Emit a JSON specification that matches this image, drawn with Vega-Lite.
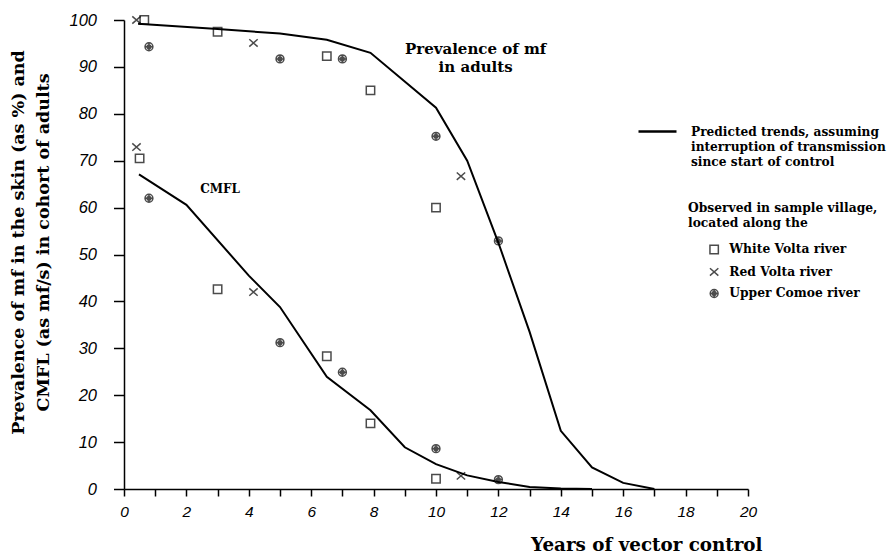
{
  "$schema": "https://vega.github.io/schema/vega-lite/v6.json",
  "width": 624,
  "height": 469,
  "autosize": {"type": "none"},
  "padding": {"left": 124, "top": 20, "right": 141, "bottom": 64},
  "background": "white",
  "config": {
    "view": {"stroke": null},
    "axis": {"grid": false, "domainColor": "black", "tickColor": "black", "labelColor": "black", "titleColor": "black", "domainWidth": 1.5, "tickWidth": 1.5}
  },
  "datasets": {
    "trends": [
      {"curve": "adults", "year": 0.45, "value": 99.2},
      {"curve": "adults", "year": 3, "value": 98.1},
      {"curve": "adults", "year": 5, "value": 97.1},
      {"curve": "adults", "year": 6.5, "value": 95.8},
      {"curve": "adults", "year": 7.9, "value": 93.0},
      {"curve": "adults", "year": 10, "value": 81.3},
      {"curve": "adults", "year": 11, "value": 70.0},
      {"curve": "adults", "year": 12, "value": 52.5},
      {"curve": "adults", "year": 13, "value": 33.5},
      {"curve": "adults", "year": 14, "value": 12.4},
      {"curve": "adults", "year": 15, "value": 4.6},
      {"curve": "adults", "year": 16, "value": 1.3},
      {"curve": "adults", "year": 17, "value": 0},
      {"curve": "CMFL", "year": 0.48, "value": 67.1},
      {"curve": "CMFL", "year": 2, "value": 60.6},
      {"curve": "CMFL", "year": 4, "value": 45.5},
      {"curve": "CMFL", "year": 5, "value": 38.8},
      {"curve": "CMFL", "year": 6.5, "value": 23.9},
      {"curve": "CMFL", "year": 7.9, "value": 16.8},
      {"curve": "CMFL", "year": 9, "value": 8.9},
      {"curve": "CMFL", "year": 10, "value": 5.3},
      {"curve": "CMFL", "year": 11, "value": 2.9},
      {"curve": "CMFL", "year": 12, "value": 1.5},
      {"curve": "CMFL", "year": 13, "value": 0.45},
      {"curve": "CMFL", "year": 14, "value": 0.1},
      {"curve": "CMFL", "year": 15, "value": 0}
    ],
    "obs": [
      {"river": "White Volta river", "measure": "adults", "year": 0.65, "value": 100},
      {"river": "Red Volta river", "measure": "adults", "year": 0.4, "value": 100},
      {"river": "Upper Comoe river", "measure": "adults", "year": 0.8, "value": 94.3},
      {"river": "White Volta river", "measure": "adults", "year": 3, "value": 97.5},
      {"river": "Red Volta river", "measure": "adults", "year": 4.15, "value": 95.1},
      {"river": "Upper Comoe river", "measure": "adults", "year": 5, "value": 91.7},
      {"river": "White Volta river", "measure": "adults", "year": 6.5, "value": 92.3},
      {"river": "Upper Comoe river", "measure": "adults", "year": 7, "value": 91.7},
      {"river": "White Volta river", "measure": "adults", "year": 7.9, "value": 85},
      {"river": "Upper Comoe river", "measure": "adults", "year": 10, "value": 75.2},
      {"river": "Red Volta river", "measure": "adults", "year": 10.8, "value": 66.7},
      {"river": "White Volta river", "measure": "adults", "year": 10, "value": 60},
      {"river": "Upper Comoe river", "measure": "adults", "year": 12, "value": 52.9},
      {"river": "Red Volta river", "measure": "CMFL", "year": 0.4, "value": 72.9},
      {"river": "White Volta river", "measure": "CMFL", "year": 0.5, "value": 70.5},
      {"river": "Upper Comoe river", "measure": "CMFL", "year": 0.8, "value": 62},
      {"river": "White Volta river", "measure": "CMFL", "year": 3, "value": 42.6},
      {"river": "Red Volta river", "measure": "CMFL", "year": 4.15, "value": 42},
      {"river": "Upper Comoe river", "measure": "CMFL", "year": 5, "value": 31.2},
      {"river": "White Volta river", "measure": "CMFL", "year": 6.5, "value": 28.3},
      {"river": "Upper Comoe river", "measure": "CMFL", "year": 7, "value": 24.9},
      {"river": "White Volta river", "measure": "CMFL", "year": 7.9, "value": 14},
      {"river": "Upper Comoe river", "measure": "CMFL", "year": 10, "value": 8.6},
      {"river": "White Volta river", "measure": "CMFL", "year": 10, "value": 2.2},
      {"river": "Red Volta river", "measure": "CMFL", "year": 10.8, "value": 2.8},
      {"river": "Upper Comoe river", "measure": "CMFL", "year": 12, "value": 2}
    ],
    "note1": [{"label": "Prevalence of mf\nin adults", "year": 11.27, "value": 93.75}],
    "note2": [{"label": "CMFL", "year": 3.08, "value": 63.9}]
  },
  "encoding": {
    "x": {
      "field": "year", "type": "quantitative",
      "scale": {"domain": [0, 20], "nice": false},
      "axis": {
        "values": [0,1,2,3,4,5,6,7,8,9,10,11,12,13,14,15,16,17,18,19,20],
        "labelExpr": "datum.value % 2 == 0 ? datum.label : ''",
        "tickSize": 7, "labelPadding": 8, "labelFlush": false,
        "labelFont": "Liberation Sans", "labelFontStyle": "italic", "labelFontSize": 15.5,
        "title": "Years of vector control",
        "titleFont": "DejaVu Serif", "titleFontWeight": "bold", "titleFontSize": 18.3,
        "titleAnchor": "end", "titleAlign": "right", "titleX": 638, "titleY": 56, "titleBaseline": "middle"
      }
    },
    "y": {
      "field": "value", "type": "quantitative",
      "scale": {"domain": [0, 100], "nice": false},
      "axis": {
        "values": [0,10,20,30,40,50,60,70,80,90,100],
        "tickSize": 10.5, "labelPadding": 17,
        "labelFont": "Liberation Sans", "labelFontStyle": "italic", "labelFontSize": 16.5,
        "title": ["Prevalence of mf in the skin (as %) and", "CMFL (as mf/s) in cohort of adults"],
        "titleFont": "DejaVu Serif", "titleFontWeight": "bold", "titleFontSize": 17.5,
        "titleLineHeight": 25, "titleAngle": -90, "titleBaseline": "middle",
        "titleX": -106, "titleY": 222, "titleAlign": "center"
      }
    }
  },
  "layer": [
    {
      "data": {"name": "trends"},
      "mark": {"type": "line", "strokeWidth": 2},
      "encoding": {
        "detail": {"field": "curve"},
        "color": {
          "datum": "Predicted trends, assuming\ninterruption of transmission\nsince start of control",
          "scale": {"range": ["black"]},
          "legend": {
            "title": null, "orient": "none", "legendX": 513, "legendY": 91,
            "symbolType": "stroke", "symbolSize": 1444, "symbolStrokeWidth": 2.5,
            "labelExpr": "split(datum.label, '\\n')",
            "labelFont": "DejaVu Serif", "labelFontWeight": "bold", "labelFontSize": 12.2,
            "labelOffset": 13, "labelBaseline": "middle", "labelLimit": 400, "labelColor": "black",
            "encode": {"labels": {"update": {"lineHeight": {"value": 15}}}}
          }
        }
      }
    },
    {
      "data": {"name": "obs"},
      "mark": {"type": "point", "filled": false, "color": "black", "strokeWidth": 1.5, "size": 110},
      "encoding": {
        "shape": {
          "field": "river", "type": "nominal",
          "scale": {
            "domain": ["White Volta river", "Red Volta river", "Upper Comoe river"],
            "range": [
              "M-0.8,-0.8H0.8V0.8H-0.8Z",
              "M-0.8,-0.7L0.8,0.7M0.8,-0.7L-0.8,0.7",
              "M-0.75,0A0.75,0.75 0 1,0 0.75,0A0.75,0.75 0 1,0 -0.75,0ZM-0.35,0A0.35,0.35 0 1,0 0.35,0A0.35,0.35 0 1,0 -0.35,0ZM-0.75,0H0.75M0,-0.75V0.75"
            ]
          },
          "legend": {
            "title": ["Observed in sample village,", "located along the"],
            "orient": "none", "legendX": 564, "legendY": 182,
            "titleFont": "DejaVu Serif", "titleFontWeight": "bold", "titleFontSize": 12.3,
            "titleLineHeight": 15, "titlePadding": 14, "titleColor": "black", "titleLimit": 400,
            "labelFont": "DejaVu Serif", "labelFontWeight": "bold", "labelFontSize": 12.3,
            "labelColor": "black", "symbolOffset": 20, "labelOffset": 9, "rowPadding": 7.5,
            "symbolStrokeColor": "black", "symbolStrokeWidth": 1.5, "symbolSize": 110
          }
        }
      }
    },
    {
      "data": {"name": "note1"},
      "mark": {"type": "text", "font": "DejaVu Serif", "fontWeight": "bold", "fontSize": 15, "lineBreak": "\n", "lineHeight": 17.5, "align": "center", "baseline": "middle", "color": "black"},
      "encoding": {"text": {"field": "label"}}
    },
    {
      "data": {"name": "note2"},
      "mark": {"type": "text", "font": "DejaVu Serif", "fontWeight": "bold", "fontSize": 12, "align": "center", "baseline": "middle", "color": "black"},
      "encoding": {"text": {"field": "label"}}
    }
  ]
}
